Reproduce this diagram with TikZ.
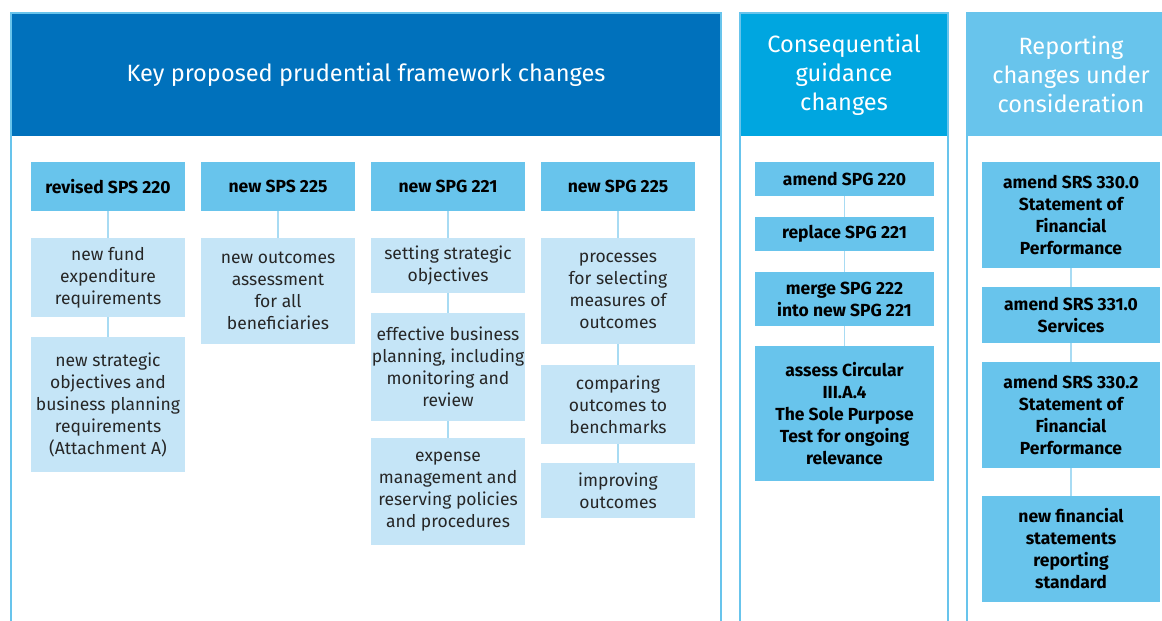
\documentclass[tikz,border=0pt]{standalone}
\usepackage{fontspec}
\setmainfont{Fira Sans}
\definecolor{cobalt}{HTML}{0071BC}
\definecolor{cerulean}{HTML}{00A6E0}
\definecolor{skyblue}{HTML}{68C4EC}
\definecolor{paleblue}{HTML}{C5E5F7}
\definecolor{linkblue}{HTML}{A8DBF3}
\definecolor{inkgrey}{HTML}{262626}

\begin{document}
\begin{tikzpicture}[x=1pt, y=-1pt,
    head/.style={text=white, inner sep=0pt, align=center, font=\fontsize{23.6}{29}\selectfont},
    doc/.style={fill=skyblue, inner sep=0pt, align=center, font=\bfseries\fontsize{17.5}{22}\selectfont},
    item/.style={fill=paleblue, inner sep=0pt, align=center, text=inkgrey, font=\fontsize{17.5}{22}\selectfont},
    link/.style={draw=linkblue, line width=1.5pt},
    frame/.style={draw=skyblue, line width=1.5pt}]
        
        \clip (0,0) rectangle (1162,621) ;
        
        % panel headers
        \node[head, fill=cobalt, minimum width=710pt, minimum height=123pt] (h1) at (366,74.5) {Key proposed prudential framework changes} ;
        \node[head, fill=cerulean, minimum width=208pt, minimum height=123pt] (h2) at (844,74.5) {Consequential\\guidance\\changes} ;
        \node[head, fill=skyblue, minimum width=208pt, minimum height=123pt] (h3) at (1071,74.5) {Reporting\\changes under\\consideration} ;
        
        \draw[frame] (11,640) -- (11,13) -- (721,13) -- (721,640) ;
        \draw[frame] (740,640) -- (740,13) -- (948,13) -- (948,640) ;
        \draw[frame] (967,640) -- (967,13) -- (1175,13) ;
        
        % prudential framework
        \node[doc, minimum width=154pt, minimum height=49pt] (k1) at (108,186.5) {revised SPS 220} ;
        \node[item, minimum width=154pt, minimum height=79pt] (k1a) at (108,277.5) {new fund\\expenditure\\requirements} ;
        \node[item, minimum width=154pt, minimum height=135pt] (k1b) at (108,404.5) {new strategic\\objectives and\\business planning\\requirements\\(Attachment A)} ;
        
        \node[doc, minimum width=154pt, minimum height=49pt] (k2) at (278,186.5) {new SPS 225} ;
        \node[item, minimum width=154pt, minimum height=106pt] (k2a) at (278,291) {new outcomes\\assessment\\for all\\beneficiaries} ;
        
        \node[doc, minimum width=154pt, minimum height=49pt] (k3) at (448,186.5) {new SPG 221} ;
        \node[item, minimum width=154pt, minimum height=55pt] (k3a) at (448,265.5) {setting strategic\\objectives} ;
        \node[item, minimum width=154pt, minimum height=108pt] (k3b) at (448,367) {effective business\\planning, including\\monitoring and\\review} ;
        \node[item, minimum width=154pt, minimum height=107pt] (k3c) at (448,491.5) {expense\\management and\\reserving policies\\and procedures} ;
        
        \node[doc, minimum width=154pt, minimum height=49pt] (k4) at (618,186.5) {new SPG 225} ;
        \node[item, minimum width=154pt, minimum height=106pt] (k4a) at (618,291) {processes\\for selecting\\measures of\\outcomes} ;
        \node[item, minimum width=154pt, minimum height=79pt] (k4b) at (618,404.5) {comparing\\outcomes to\\benchmarks} ;
        \node[item, minimum width=154pt, minimum height=55pt] (k4c) at (618,490.5) {improving\\outcomes} ;
        
        \draw[link] (k1) -- (k1a) ;
        \draw[link] (k1a) -- (k1b) ;
        \draw[link] (k2) -- (k2a) ;
        \draw[link] (k3) -- (k3a) ;
        \draw[link] (k3a) -- (k3b) ;
        \draw[link] (k3b) -- (k3c) ;
        \draw[link] (k4) -- (k4a) ;
        \draw[link] (k4a) -- (k4b) ;
        \draw[link] (k4b) -- (k4c) ;
        
        % guidance
        \node[doc, minimum width=179pt, minimum height=34pt] (g1) at (844.5,179) {amend SPG 220} ;
        \node[doc, minimum width=179pt, minimum height=34pt] (g2) at (844.5,234) {replace SPG 221} ;
        \node[doc, minimum width=179pt, minimum height=54pt] (g3) at (844.5,299) {merge SPG 222\\into new SPG 221} ;
        \node[doc, minimum width=179pt, minimum height=135pt] (g4) at (844.5,413.5) {assess Circular\\III.A.4\\The Sole Purpose\\Test for ongoing\\relevance} ;
        
        \draw[link] (g1) -- (g2) ;
        \draw[link] (g2) -- (g3) ;
        \draw[link] (g3) -- (g4) ;
        
        % reporting
        \node[doc, minimum width=178pt, minimum height=106pt] (r1) at (1071,215) {amend SRS 330.0\\Statement of\\Financial\\Performance} ;
        \node[doc, minimum width=178pt, minimum height=56pt] (r2) at (1071,315) {amend SRS 331.0\\Services} ;
        \node[doc, minimum width=178pt, minimum height=106pt] (r3) at (1071,415) {amend SRS 330.2\\Statement of\\Financial\\Performance} ;
        \node[doc, minimum width=178pt, minimum height=106pt] (r4) at (1071,549) {new financial\\statements\\reporting\\standard} ;
        
        \draw[link] (r1) -- (r2) ;
        \draw[link] (r2) -- (r3) ;
        \draw[link] (r3) -- (r4) ;
        
    \end{tikzpicture}
\end{document}
